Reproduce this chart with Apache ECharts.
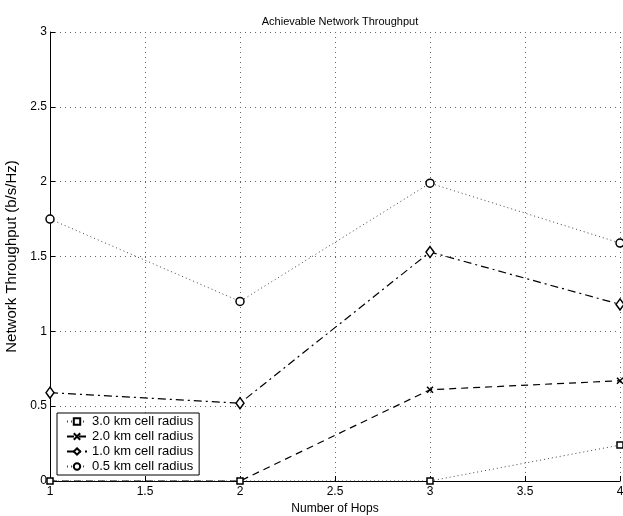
<!DOCTYPE html>
<html>
<head>
<meta charset="utf-8">
<script src="https://cdn.jsdelivr.net/npm/echarts@6/dist/echarts.min.js"></script>
<style>
  html, body { margin: 0; padding: 0; background: #fff; }
  #chart { width: 623px; height: 516px; }
</style>
</head>
<body>
<div id="chart"></div>
<script>
// hops on the x axis
const hops = [1, 2, 3, 4];

// throughput per cell radius (b/s/Hz)
const radius30 = [0, 0, 0, 0.24];
const radius20 = [0, 0, 0.61, 0.67];
const radius10 = [0.59, 0.52, 1.53, 1.18];
const radius05 = [1.75, 1.2, 1.99, 1.59];

const names = ['3.0 km cell radius', '2.0 km cell radius', '1.0 km cell radius', '0.5 km cell radius'];

function pairs(vals) {
  return hops.map((h, i) => [h, vals[i]]);
}

const font = 'Liberation Sans, Arial, sans-serif';
const crossPath = 'path://M0,0L10,10M10,0L0,10';

const chart = echarts.init(document.getElementById('chart'));

chart.setOption({
  animation: false,
  backgroundColor: '#fff',
  title: {
    text: 'Achievable Network Throughput',
    left: 335,
    top: 11,
    textAlign: 'center',
    textStyle: { fontFamily: font, fontSize: 11, fontWeight: 'normal', color: '#000' }
  },
  grid: { left: 50, right: 3, top: 32, bottom: 35, outerBoundsMode: 'none' },
  legend: {
    orient: 'vertical',
    left: 57,
    top: 413,
    padding: [2, 6, 2, 9],
    itemGap: 2,
    itemWidth: 20,
    itemHeight: 8,
    borderColor: '#000',
    borderWidth: 1,
    backgroundColor: '#fff',
    textStyle: { fontFamily: font, fontSize: 13, color: '#000' },
    data: names
  },
  xAxis: {
    type: 'value',
    min: 1,
    max: 4,
    interval: 0.5,
    name: 'Number of Hops',
    nameLocation: 'middle',
    nameGap: 22,
    nameTextStyle: { fontFamily: font, fontSize: 12, color: '#000' },
    axisLine: { lineStyle: { color: '#000', width: 1 } },
    axisTick: { inside: true, length: 5, lineStyle: { color: '#000' } },
    axisLabel: { fontFamily: font, fontSize: 12, color: '#000', margin: 5 },
    splitLine: { show: true, lineStyle: { color: '#666', type: [1, 4], width: 1 } }
  },
  yAxis: {
    type: 'value',
    min: 0,
    max: 3,
    interval: 0.5,
    name: 'Network Throughput (b/s/Hz)',
    nameLocation: 'middle',
    nameGap: 23,
    nameTextStyle: { fontFamily: font, fontSize: 15, color: '#000' },
    axisLine: { show: true, lineStyle: { color: '#000', width: 1 } },
    axisTick: { show: true, inside: true, length: 5, lineStyle: { color: '#000' } },
    axisLabel: { fontFamily: font, fontSize: 12, color: '#000', margin: 3 },
    splitLine: { show: true, lineStyle: { color: '#666', type: [1, 4], width: 1 } }
  },
  series: [
    {
      name: names[0],
      type: 'line',
      data: pairs(radius30),
      symbol: 'rect',
      symbolSize: 6,
      z: 4,
      lineStyle: { color: '#444', width: 1, type: [1, 3] },
      itemStyle: { color: '#fff', borderColor: '#000', borderWidth: 1.5 }
    },
    {
      name: names[1],
      type: 'line',
      data: pairs(radius20),
      symbol: crossPath,
      symbolSize: 6,
      z: 3,
      lineStyle: { color: '#000', width: 1.2, type: [7, 5] },
      itemStyle: { color: '#000', borderColor: '#000', borderWidth: 1.5 }
    },
    {
      name: names[2],
      type: 'line',
      data: pairs(radius10),
      symbol: 'diamond',
      symbolSize: [8, 11],
      z: 3,
      lineStyle: { color: '#000', width: 1.2, type: [8, 4, 2, 4] },
      itemStyle: { color: '#fff', borderColor: '#000', borderWidth: 1.5 }
    },
    {
      name: names[3],
      type: 'line',
      data: pairs(radius05),
      symbol: 'circle',
      symbolSize: 8,
      z: 3,
      lineStyle: { color: '#444', width: 1, type: [1, 3] },
      itemStyle: { color: '#fff', borderColor: '#000', borderWidth: 1.5 }
    }
  ]
});
</script>
</body>
</html>
